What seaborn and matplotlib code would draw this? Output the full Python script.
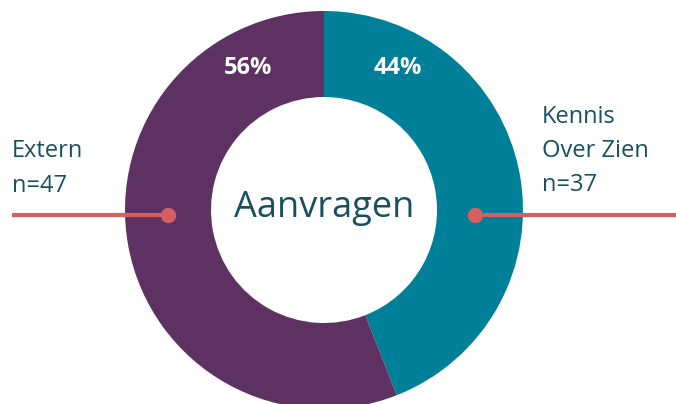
import matplotlib.pyplot as plt
import seaborn as sns

# data
labels = ["Kennis\nOver Zien", "Extern"]
counts = [37, 47]
colors = ["#007F99", "#5E3163"]
pct_labels = ["44%", "56%"]
center_title = "Aanvragen"

sns.set_style("white")
plt.rcParams['font.family'] = ['Open Sans', 'DejaVu Sans']

textc = "#17505E"
linec = "#D65F62"

fig = plt.figure(figsize=(6.76, 4.04), dpi=100)
ax = fig.add_axes([0, 0, 1, 1])

cx, cy, r = 324, 194, 199
ax.pie(counts, colors=colors, startangle=90, counterclock=False,
       center=(cx, cy), radius=r,
       wedgeprops=dict(width=86, edgecolor="none"))
ax.set_xlim(0, 676)
ax.set_ylim(0, 404)
ax.set_aspect("equal")
ax.axis("off")

# percent labels
ax.text(248, 336, pct_labels[1], color="white", fontsize=17, fontweight="bold",
        ha="center", va="center")
ax.text(398, 336, pct_labels[0], color="white", fontsize=17, fontweight="bold",
        ha="center", va="center")

ax.text(cx, 196, center_title, color=textc, fontsize=26, ha="center", va="center")

# connector lines
ax.plot([12, 168], [189, 189], color=linec, lw=3, solid_capstyle="butt")
ax.plot([168], [189], "o", color=linec, ms=10)
ax.plot([475, 676], [189, 189], color=linec, lw=3, solid_capstyle="butt")
ax.plot([475], [189], "o", color=linec, ms=10)

left_lines = ["Extern", "n=" + str(counts[1])]
for i, s in enumerate(left_lines):
    ax.text(12, 247 - 35 * i, s, color=textc, fontsize=17, ha="left", va="baseline")
right_lines = labels[0].split("\n") + ["n=" + str(counts[0])]
for i, s in enumerate(right_lines):
    ax.text(542, 281 - 34 * i, s, color=textc, fontsize=17, ha="left", va="baseline")

fig.savefig("out.png", dpi=100)
